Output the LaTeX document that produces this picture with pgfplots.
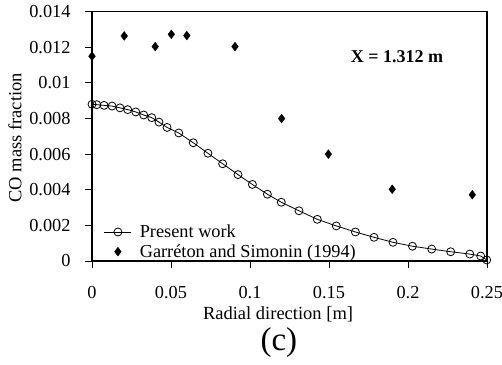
\documentclass[border=0pt]{standalone}
\usepackage{fontspec}
\setmainfont{Liberation Serif}
\usepackage{pgfplots}
\pgfplotsset{compat=1.18}
\begin{document}
\begin{tikzpicture}
\useasboundingbox (0,0) rectangle (502bp,365bp);
\begin{axis}[
  at={(92bp,104bp)}, anchor=south west,
  scale only axis, width=395bp, height=249.3bp,
  xmin=0, xmax=0.25, ymin=0, ymax=0.014,
  scaled x ticks=false, scaled y ticks=false,
  xtick={0,0.05,0.1,0.15,0.2,0.25},
  xticklabels={0,0.05,0.1,0.15,0.2,0.25},
  ytick={0,0.002,0.004,0.006,0.008,0.01,0.012,0.014},
  yticklabels={0,0.002,0.004,0.006,0.008,0.01,0.012,0.014},
  /pgf/number format/assume math mode=true,
  axis line style={line width=1.6bp},
  tick align=outside, tick pos=left,
  major tick length=7bp,
  tick style={line width=0.9bp, black},
  ticklabel style={font=\fontsize{18.3bp}{20bp}\selectfont},
  xticklabel shift=15bp,
  yticklabel shift=11bp,
  xlabel={Radial direction [m]},
  ylabel={CO mass fraction},
  label style={font=\fontsize{18.5bp}{20bp}\selectfont},
  xlabel style={at={(axis description cs:0.471,-0.213)}, anchor=center},
  ylabel style={at={(axis description cs:-0.195,0.494)}, anchor=center},
  legend cell align=left,
  legend style={draw=none, fill=none, at={(axis cs:0.0076,0.00214)}, anchor=north west,
    inner sep=0pt, outer sep=0pt, row sep=1.5bp,
    /tikz/every odd column/.append style={column sep=6bp},
    font=\fontsize{18.3bp}{20bp}\selectfont},
  legend image code/.code={\draw[mark repeat=2,mark phase=2] plot coordinates {(0bp,0bp)(13.5bp,0bp)(27bp,0bp)};},
  clip=false,
]
\addplot[black, line width=0.8bp, mark=o, mark size=4bp, mark options={line width=0.8bp}] coordinates {
(0,0.0088) (0.003,0.00878) (0.0076,0.00874) (0.0127,0.0087) (0.0177,0.0086)
(0.0226,0.0085) (0.0277,0.00837) (0.0327,0.0082) (0.0378,0.00805) (0.0424,0.0078)
(0.0475,0.0075) (0.0549,0.00719) (0.0641,0.00664) (0.0734,0.00605) (0.0827,0.00546)
(0.0924,0.00485) (0.1015,0.0043) (0.111,0.00375) (0.1198,0.0033) (0.1310,0.00282)
(0.1426,0.00234) (0.1546,0.00197) (0.1667,0.00163) (0.1785,0.00133) (0.1905,0.00105)
(0.2028,0.00083) (0.2150,0.00067) (0.2270,0.00052) (0.2391,0.00039) (0.2460,0.00028)
(0.2498,0.00006)
};
\addlegendentry{Present work}
\addplot[only marks, black, mark=diamond*, mark size=4.4bp] coordinates {
(0,0.0115) (0.0204,0.01264) (0.040,0.01204) (0.0502,0.01273) (0.060,0.01266)
(0.0905,0.01204) (0.120,0.0080) (0.1496,0.0060) (0.190,0.00403) (0.2407,0.00372)
};
\addlegendentry{Garréton and Simonin (1994)}
\node[font=\fontsize{18bp}{20bp}\selectfont\bfseries] at (axis cs:0.193,0.01145) {X = 1.312 m};
\node[font=\fontsize{33bp}{35bp}\selectfont] at (axis description cs:0.473,-0.326) {(c)};
\end{axis}
\end{tikzpicture}
\end{document}
